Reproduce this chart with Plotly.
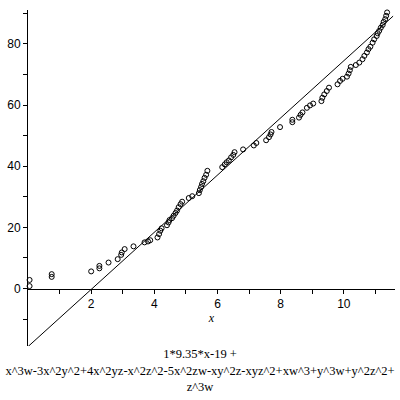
import plotly.graph_objects as go

# sample points
pts_x = [0.05, 0.05, 0.75, 0.75, 2.00, 2.26, 2.26, 2.55, 2.84, 2.95, 2.97, 3.06, 3.34,
         3.69, 3.80, 3.87, 4.10, 4.15, 4.19, 4.23, 4.40, 4.45, 4.48,
         4.56, 4.61, 4.67, 4.72, 4.77, 4.83, 4.88, 5.09, 5.20,
         5.41, 5.44, 5.48, 5.51, 5.55, 5.59, 5.64, 5.68,
         6.15, 6.23, 6.29, 6.36, 6.43, 6.50, 6.54, 6.81, 7.15, 7.23,
         7.54, 7.63, 7.68, 7.71, 7.98, 8.37, 8.37, 8.58, 8.63, 8.69,
         8.83, 8.93, 9.03, 9.29, 9.32, 9.38, 9.46, 9.53, 9.80, 9.88, 9.96,
         10.10, 10.15, 10.19, 10.22, 10.38, 10.49, 10.59, 10.65, 10.73, 10.78,
         10.84, 10.91, 10.96, 11.04, 11.07, 11.12, 11.17, 11.23, 11.26, 11.31,
         11.34, 11.37]
pts_y = [0.8, 2.8, 3.8, 4.7, 5.6, 6.6, 7.4, 8.5, 9.6, 11.0, 11.8, 12.9, 13.8,
         15.1, 15.4, 15.8, 16.7, 17.8, 18.9, 19.7, 20.7, 21.6, 22.4,
         23.0, 23.8, 24.7, 25.5, 26.6, 27.6, 28.4, 29.6, 30.2,
         31.2, 32.2, 33.2, 34.2, 35.1, 36.2, 37.2, 38.5,
         39.7, 40.6, 41.3, 41.9, 42.9, 43.7, 44.6, 45.5, 46.8, 47.6,
         48.5, 49.5, 50.4, 51.2, 52.8, 54.4, 55.2, 55.9, 56.8, 57.6,
         59.1, 59.9, 60.5, 61.3, 62.4, 63.5, 64.6, 65.7, 66.8, 67.9, 68.6,
         69.3, 70.3, 71.4, 72.5, 73.1, 73.9, 75.0, 76.1, 77.2, 78.3,
         79.1, 80.4, 81.5, 82.6, 83.5, 84.3, 85.3, 86.2, 87.2, 88.1,
         89.2, 90.3]

# fitted line end points (1*9.35*x-19)
line_x = [0.0, 11.56]
line_y = [-19.0, 89.1]

x_tickvals = [1, 2, 3, 4, 5, 6, 7, 8, 9, 10, 11]
x_ticktext = ['', '2', '', '4', '', '6', '', '8', '', '10', '']
y_tickvals = [-10, 0, 10, 20, 30, 40, 50, 60, 70, 80, 90]
y_ticktext = ['', '0', '', '20', '', '40', '', '60', '', '80', '']

title_lines = ["1*9.35*x-19 +",
               "x^3w-3x^2y^2+4x^2yz-x^2z^2-5x^2zw-xy^2z-xyz^2+xw^3+y^3w+y^2z^2+",
               "z^3w"]

x_range = [0, 11.62]
y_range = [-18.8, 91.1]

fig = go.Figure()
fig.add_trace(go.Scatter(x=line_x, y=line_y, mode='lines',
                         line=dict(color='black', width=1), hoverinfo='skip'))
fig.add_trace(go.Scatter(x=pts_x, y=pts_y, mode='markers', cliponaxis=False,
                         marker=dict(symbol='circle-open', size=5, color='black',
                                     line=dict(width=1, color='black'))))

fig.update_layout(
    width=400, height=400,
    margin=dict(l=28, r=5, t=10, b=54, autoexpand=False),
    plot_bgcolor='white', paper_bgcolor='white',
    showlegend=False,
    font=dict(family='Liberation Sans', size=12, color='black'),
    title=dict(text='<br>'.join(title_lines), x=0.5, xanchor='center',
               y=0.104, yanchor='top', yref='container', automargin=False,
               font=dict(family='Liberation Serif', size=12.5, color='black')),
    xaxis=dict(range=x_range, anchor='free', automargin=False,
               position=(0 - y_range[0]) / (y_range[1] - y_range[0]),
               showline=True, linecolor='black', linewidth=1,
               showgrid=False, zeroline=False,
               ticks='outside', ticklen=4, tickcolor='black',
               tickvals=x_tickvals, ticktext=x_ticktext,
               title=dict(text='<i>x</i>', standoff=3,
                          font=dict(family='Liberation Serif', size=12))),
    yaxis=dict(range=y_range, automargin=False,
               showline=True, linecolor='black', linewidth=1,
               showgrid=False, zeroline=False,
               ticks='outside', ticklen=4, tickcolor='black',
               tickvals=y_tickvals, ticktext=y_ticktext),
)

# the page's default body margin would shift the figure by 8px
fig.write_html("out.html", config={'displayModeBar': False},
               post_script="document.body.style.margin='0';document.body.style.overflow='hidden';")
